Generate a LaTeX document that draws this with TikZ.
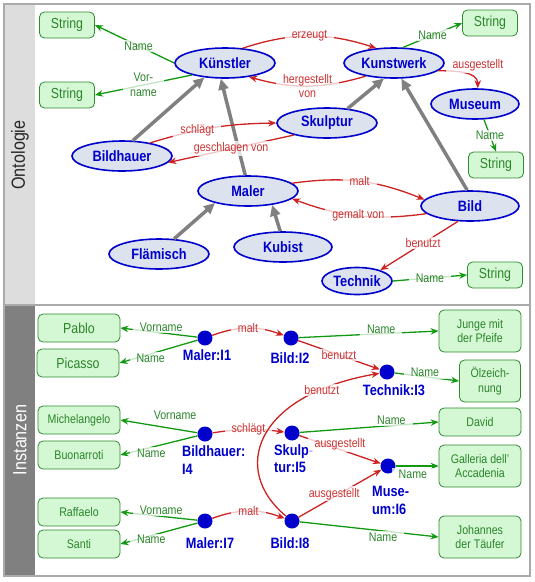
\documentclass[tikz,border=0pt]{standalone}
\usepackage{fontspec}
\setmainfont{Liberation Sans}[FakeStretch=0.85]
\usetikzlibrary{arrows.meta,positioning,shapes.geometric}

\definecolor{knoten}{HTML}{0000CC}
\definecolor{knotenfill}{HTML}{DDE3EE}
\definecolor{wertrand}{HTML}{2E8B2E}
\definecolor{wertfill}{HTML}{D4F7D4}
\definecolor{gruen}{HTML}{119911}
\definecolor{gruentext}{HTML}{2A852A}
\definecolor{rot}{HTML}{CC2222}
\definecolor{rottext}{HTML}{CC3333}
\definecolor{rahmen}{HTML}{AAAAAA}
\definecolor{ontograu}{HTML}{DDDDDD}
\definecolor{instgrau}{HTML}{808080}

\newcommand{\knotenfont}{\fontsize{15}{17.5}\selectfont\bfseries}
\newcommand{\kantenfont}{\fontsize{12.5}{14.5}\selectfont}
\newcommand{\wertfont}{\fontsize{14.5}{16}\selectfont}
\newcommand{\kleinwertfont}{\fontsize{12.5}{14.5}\selectfont}
\newcommand{\seitenfont}{\fontsize{19}{22}\selectfont}

\tikzset{
  klasse/.style={ellipse, draw=knoten, line width=1.6pt, fill=knotenfill, text=knoten,
    font=\knotenfont, minimum width=100pt, minimum height=30pt, inner sep=0pt},
  wert/.style={rectangle, rounded corners=5pt, draw=wertrand, line width=0.8pt, fill=wertfill,
    text=gruentext, font=\wertfont, minimum width=55pt, minimum height=26pt, inner sep=0pt, align=center},
  iwert/.style={wert, font=\kleinwertfont, minimum width=82pt, minimum height=28pt},
  inst/.style={circle, fill=knoten, minimum size=15pt, inner sep=0pt},
  iname/.style={text=knoten, font=\knotenfont, inner sep=0pt, align=left},
  rel/.style={draw=rot, line width=1.3pt, -{Stealth[length=8pt,width=6.5pt]}},
  attr/.style={draw=gruen, line width=1.3pt, -{Stealth[length=8pt,width=6.5pt]}},
  isa/.style={draw=instgrau, line width=3.5pt, -{Triangle[length=11pt,width=10pt]}},
  lab/.style={fill=white, fill opacity=.75, text opacity=1, inner xsep=7pt, inner ysep=1.5pt,
    font=\kantenfont, align=center},
  rlab/.style={lab, text=rottext},
  glab/.style={lab, text=gruentext},
}

\begin{document}
\begin{tikzpicture}[x=1pt,y=-1pt]
\useasboundingbox (0,0) rectangle (535,582);

% Rahmen und Seitenleiste
\fill[ontograu] (4,4) rectangle (35,305);
\fill[instgrau] (4,305) rectangle (35,576);
\draw[rahmen, line width=1.5pt] (4,4) rectangle (530,576);
\draw[rahmen, line width=1.5pt] (4,305) -- (530,305);
\node[rotate=90, font=\seitenfont, text=black!85] (onto) at (20,155) {Ontologie};
\node[rotate=90, font=\seitenfont, text=white] (insta) at (20,440) {Instanzen};

% Ontologie: Klassen
\node[wert] (sname) at (67,25) {String};
\node[wert] (svorname) at (67,95) {String};
\node[klasse] (kuenstler) at (225,63) {Künstler};
\node[klasse] (kunstwerk) at (394,63) {Kunstwerk};
\node[wert] (swerk) at (490,23) {String};
\node[klasse, minimum width=88pt] (museum) at (475,104) {Museum};
\node[klasse] (skulptur) at (327,123) {Skulptur};
\node[wert] (smuseum) at (496,165) {String};
\node[klasse] (bildhauer) at (122,156) {Bildhauer};
\node[klasse] (maler) at (248,191) {Maler};
\node[klasse, minimum width=98pt] (bild) at (470,206) {Bild};
\node[klasse] (flaemisch) at (159,254) {Flämisch};
\node[klasse, minimum width=98pt] (kubist) at (283,247) {Kubist};
\node[klasse, minimum width=70pt, minimum height=27pt] (technik) at (357,281) {Technik};
\node[wert] (stechnik) at (495,275) {String};

% Unterklassen
\draw[isa] (bildhauer.55) -- (kuenstler.215);
\draw[isa] (maler.100) -- (kuenstler.255);
\draw[isa] (skulptur.35) -- (kunstwerk.237);
\draw[isa] (bild.100) -- (kunstwerk.295);
\draw[isa] (flaemisch.45) -- (maler.200);
\draw[isa] (kubist.100) -- (maler.330);

% Attribute
\draw[attr] (kuenstler.west) -- node[glab, pos=.45] {Name} (sname.east);
\draw[attr] (kuenstler.200) -- node[glab] {Vor-\\name} (svorname.east);
\draw[attr] (kunstwerk.60) -- node[glab] {Name} (swerk.west);
\draw[attr] (museum.300) -- node[glab] {Name} (smuseum.north);
\draw[attr] (technik.east) -- node[glab] {Name} (stechnik.west);

% Relationen
\draw[rel] (kuenstler.40) to[bend left=18] node[rlab] {erzeugt} (kunstwerk.140);
\draw[rel] (kunstwerk.205) to[bend left=16] node[rlab] {hergestellt\\von} (kuenstler.330);
\draw[rel] (kunstwerk.-10) to[out=0, in=90] node[rlab, pos=.45, xshift=16pt, yshift=7pt] {ausgestellt} (museum.80);
\draw[rel] (bildhauer.25) to[bend left=8] node[rlab, pos=.37] {schlägt} (skulptur.west);
\draw[rel] (skulptur.200) -- node[rlab] {geschlagen von} (bildhauer.352);
\draw[rel] (maler.10) to[bend left=15] node[rlab] {malt} (bild.172);
\draw[rel] (bild.190) to[bend left=14] node[rlab] {gemalt von} (maler.350);
\draw[rel] (bild.232) -- node[rlab, pos=.45] {benutzt} (technik.25);

% Instanzen: Werte
\node[iwert, font=\wertfont] (pablo) at (79,328) {Pablo};
\node[iwert, font=\wertfont] (picasso) at (78,363) {Picasso};
\node[iwert] (michelangelo) at (79,420) {Michelangelo};
\node[iwert] (buonarroti) at (79,455) {Buonarroti};
\node[iwert] (raffaelo) at (79,512) {Raffaelo};
\node[iwert] (santi) at (79,544) {Santi};
\node[iwert, minimum height=42pt] (junge) at (480,331) {Junge mit\\der Pfeife};
\node[iwert, minimum width=61pt, minimum height=42pt] (oel) at (490,381) {Ölzeich-\\nung};
\node[iwert] (david) at (480,422) {David};
\node[iwert, minimum height=42pt] (galleria) at (480,466) {Galleria dell'\\Accadenia};
\node[iwert, minimum height=42pt] (johannes) at (480,537) {Johannes\\der Täufer};

% Instanzen: Individuen
\node[inst] (i1) at (205,338) {};
\node[inst] (i2) at (291,338) {};
\node[inst] (i3) at (387,372) {};
\node[inst] (i4) at (205,434) {};
\node[inst] (i5) at (292,433) {};
\node[inst] (i6) at (388,466) {};
\node[inst] (i7) at (205,521) {};
\node[inst] (i8) at (292,521) {};
\node[iname] (n1) at (207,355) {Maler:I1};
\node[iname] (n2) at (290,358) {Bild:I2};
\node[iname] (n3) at (394,390) {Technik:I3};
\node[iname, anchor=west] (n4) at (182,460) {Bildhauer:\\I4};
\node[iname, anchor=west] (n5) at (274,458.5) {Skulp-\\tur:I5};
\node[iname, anchor=west] (n6) at (372,500.5) {Muse-\\um:I6};
\node[iname] (n7) at (210,543) {Maler:I7};
\node[iname] (n8) at (290,543) {Bild:I8};

% Attribute der Individuen
\draw[attr] (i1) -- node[glab, pos=.47, yshift=6pt] {Vorname} (pablo.east);
\draw[attr] (i1) -- node[glab, pos=.6, yshift=-4pt] {Name} (picasso.east);
\draw[attr] (i2) -- node[glab, pos=.59, yshift=4pt] {Name} (junge.west);
\draw[attr] (i3) -- node[glab, pos=.47, yshift=4pt] {Name} (oel.west);
\draw[attr] (i4) -- node[glab, pos=.29, yshift=14pt] {Vorname} (michelangelo.east);
\draw[attr] (i4) -- node[glab, pos=.6, yshift=-6pt] {Name} (buonarroti.east);
\draw[attr] (i5) -- node[glab, pos=.66, yshift=5pt] {Name} (david.west);
\draw[attr] (i6) -- node[glab, pos=.4, yshift=-8pt] {Name} (galleria.west);
\draw[attr] (i7) -- node[glab, pos=.47, yshift=6pt] {Vorname} (raffaelo.east);
\draw[attr] (i7) -- node[glab, pos=.6, yshift=-4pt] {Name} (santi.east);
\draw[attr] (i8) -- node[glab, pos=.6, yshift=-6pt] {Name} (johannes.west);

% Relationen der Individuen
\draw[rel] (i1) to[bend left=20] node[rlab] {malt} (i2);
\draw[rel] (i2) -- node[rlab] {benutzt} (i3);
\draw[rel] (i4) to[bend left=8] node[rlab] {schlägt} (i5);
\draw[rel] (i5) -- node[rlab, yshift=5pt] {ausgestellt} (i6);
\draw[rel] (i8) -- node[rlab, pos=.43, yshift=3pt] {ausgestellt} (i6);
\draw[rel] (i7) to[bend left=20] node[rlab] {malt} (i8);
\draw[rel] (i8) .. controls (230,470) and (255,395) .. node[rlab, pos=.82] {benutzt} (i3);
\end{tikzpicture}
\end{document}
